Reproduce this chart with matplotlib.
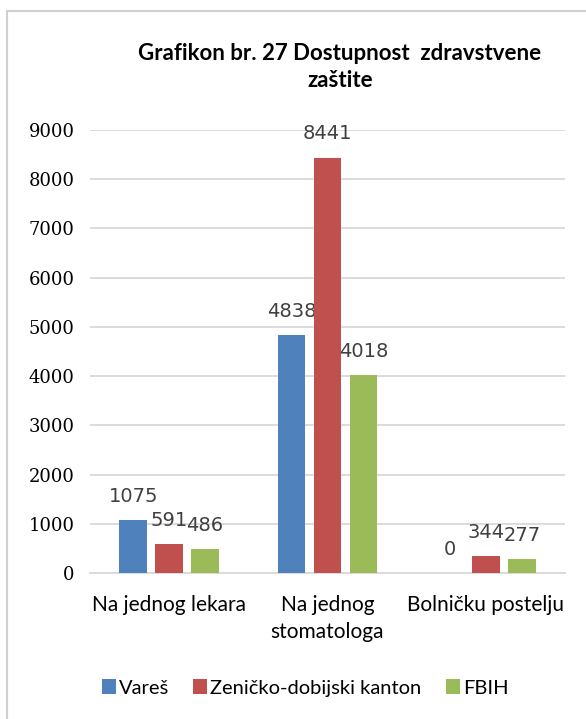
import numpy as np
import matplotlib
matplotlib.use("Agg")
import matplotlib.pyplot as plt
from matplotlib.patches import Rectangle, Patch

# Data
categories = ["Na jednog lekara", "Na jednog\nstomatologa", "Bolničku postelju"]
series_names = ["Vareš", "Zeničko-dobijski kanton", "FBIH"]
vares = [1075, 4838, 0]
zenicko = [591, 8441, 344]
fbih = [486, 4018, 277]
y_ticks = [0, 1000, 2000, 3000, 4000, 5000, 6000, 7000, 8000, 9000]

colors = ["#4F81BD", "#C0504D", "#9BBB59"]
W, H = 586, 719

fig = plt.figure(figsize=(W / 100, H / 100), dpi=100)
fig.patch.set_facecolor("white")

# chart frame (extends past right/bottom edge like the crop)
fig.patches.append(Rectangle((7 / W, -0.05), 1.2, 1 - 11 / H + 0.05,
                             transform=fig.transFigure, fill=False,
                             edgecolor="#d0d0d0", linewidth=1.5))

ax = fig.add_axes([90 / W, 146 / H, 475 / W, 443 / H])
x = np.arange(len(categories))
width = 0.175
step = 0.227

for i, (vals, c) in enumerate(zip([vares, zenicko, fbih], colors)):
    xs = x + (i - 1) * step
    ax.bar(xs, vals, width=width, color=c, zorder=3)
    for xi, v in zip(xs, vals):
        ax.annotate(f"{v}", (xi, v), xytext=(0, 17), textcoords="offset points",
                    ha="center", va="center", color="#404040", fontsize=14,
                    family="DejaVu Sans", annotation_clip=False)

ax.set_xlim(-0.5, 2.5)
ax.set_ylim(0, 9000)
ax.set_yticks(y_ticks)
ax.set_yticklabels([str(t) for t in y_ticks], family="DejaVu Serif",
                   fontsize=13, color="black")
ax.yaxis.grid(True, color="#d9d9d9", linewidth=1.3, zorder=0)
ax.set_axisbelow(True)
ax.tick_params(axis="y", length=0, pad=11)
ax.tick_params(axis="x", length=0, pad=16)
ax.set_xticks(x)
ax.set_xticklabels(categories, family="Lato", fontsize=15, color="black")
for lbl in ax.get_xticklabels():
    lbl.set_linespacing(1.45)
for s in ["top", "right", "left"]:
    ax.spines[s].set_visible(False)
ax.spines["bottom"].set_color("#d9d9d9")
ax.spines["bottom"].set_linewidth(1.3)

fig.text(340 / W, 1 - 43 / H, "Grafikon br. 27 Dostupnost  zdravstvene\nzaštite",
         ha="center", va="top", multialignment="center", family="Lato",
         fontweight="bold", fontsize=16, linespacing=1.35, color="black")

handles = [Patch(facecolor=c, edgecolor="none") for c in colors]
fig.legend(handles, series_names, loc="center", bbox_to_anchor=(305 / W, 1 - 688 / H),
           ncol=3, frameon=False, handlelength=0.7, handleheight=0.7,
           handletextpad=0.15, columnspacing=1.2,
           prop={"family": "Lato", "size": 14.5})

fig.savefig("out.png", dpi=100, facecolor="white")
